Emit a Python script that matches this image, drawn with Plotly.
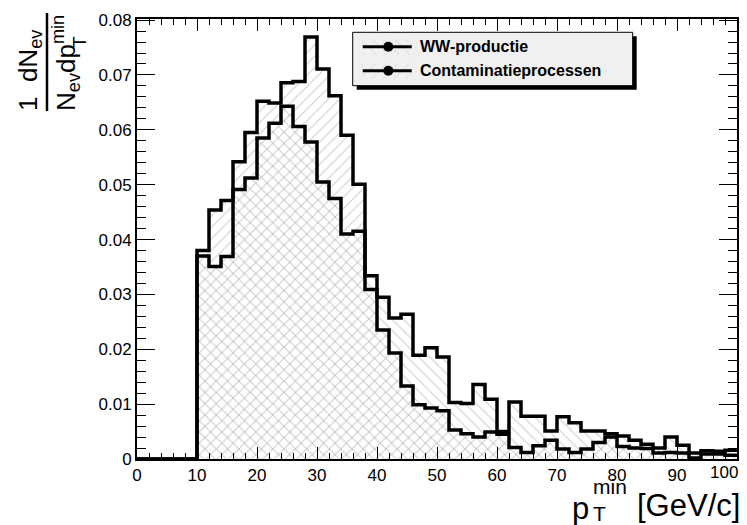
import plotly.graph_objects as go

# ---------------- data (bin width 2 GeV/c, 0..100) ----------------
bin_edges = list(range(0, 102, 2))
ww_productie = [
    0, 0, 0, 0, 0,
    0.0370, 0.0351, 0.0369, 0.0491, 0.0512,
    0.0585, 0.0612, 0.0643, 0.0606, 0.0578,
    0.0505, 0.0475, 0.0410, 0.0415, 0.0334,
    0.0295, 0.0257, 0.0264, 0.0189, 0.0203,
    0.0186, 0.0103, 0.0101, 0.0136, 0.0109,
    0.0050, 0.0104, 0.0078, 0.0078, 0.0051,
    0.0077, 0.0066, 0.0051, 0.0051, 0.0046,
    0.0042, 0.0034, 0.0027, 0.0020, 0.0040,
    0.0025, 0.0011, 0.0015, 0.0014, 0.0016,
]
contaminatie = [
    0, 0, 0, 0, 0,
    0.0380, 0.0454, 0.0471, 0.0542, 0.0595,
    0.0652, 0.0649, 0.0686, 0.0688, 0.0769,
    0.0711, 0.0662, 0.0590, 0.0501, 0.0309,
    0.0235, 0.0193, 0.0133, 0.0099, 0.0093,
    0.0088, 0.0053, 0.0046, 0.0040, 0.0049,
    0.0045, 0.0021, 0.0012, 0.0024, 0.0034,
    0.0018, 0.0012, 0.0018, 0.0030, 0.0040,
    0.0023, 0.0020, 0.0019, 0.0011, 0.0012,
    0.0011, 0.0002, 0.0009, 0.0009, 0.0007,
]
x_tickvals = list(range(0, 101, 10))
x_ticktext = ["0", "10", "20", "30", "40", "50", "60", "70", "80", "90", "100"]
y_tickvals = [0, 0.01, 0.02, 0.03, 0.04, 0.05, 0.06, 0.07, 0.08]
y_ticktext = ["0", "0.01", "0.02", "0.03", "0.04", "0.05", "0.06", "0.07", "0.08"]
legend_names = ["WW-productie", "Contaminatieprocessen"]

FONT = "Liberation Sans, Arial, Helvetica, sans-serif"
TICK = 17
BODY = 8                      # default page margin around the plot div
W, H = 747 - BODY, 525 - BODY
OX, OY = 137, 19              # plot-area corner in window pixels
PW, PH = 600, 440
ML, MT = OX - BODY, OY - BODY
MR, MB = W - ML - PW, H - MT - PH


def px2x(px):
    return (px - OX) / PW


def px2y(py):
    return 1 - (py - OY) / PH


def step(vals):
    return bin_edges, list(vals) + [vals[-1]]


fig = go.Figure()

for vals, hatch in [(ww_productie, "\\"), (contaminatie, "/")]:
    xs, ys = step(vals)
    fig.add_trace(go.Scatter(
        x=xs, y=ys, mode="lines", line=dict(shape="hv", width=0, color="rgba(0,0,0,0)"),
        fill="tozeroy", fillcolor="rgba(0,0,0,0)",
        fillpattern=dict(shape=hatch, fgcolor="#959595", bgcolor="rgba(0,0,0,0)",
                         size=8, solidity=0.12, fillmode="overlay"),
        showlegend=False, hoverinfo="skip"))

for vals in [ww_productie, contaminatie]:
    xs, ys = step(vals)
    fig.add_trace(go.Scatter(
        x=xs, y=ys, mode="lines", line=dict(shape="hv", width=3.5, color="black"),
        showlegend=False, hoverinfo="skip"))

# ---------------- legend drawn in plot-fraction coordinates ----------------
bx0, bx1, by0, by1 = px2x(352.7), px2x(632.7), px2y(85.7), px2y(32.3)
sh = 4
sx0, sx1, sy0, sy1 = px2x(352.7 + sh), px2x(632.7 + sh), px2y(85.7 + sh), px2y(32.3 + sh)
leg = dict(xaxis="x2", yaxis="y2", showlegend=False, hoverinfo="skip")
fig.add_trace(go.Scatter(x=[sx0, sx1, sx1, sx0, sx0], y=[sy0, sy0, sy1, sy1, sy0], mode="lines",
                         fill="toself", fillcolor="black", line=dict(width=0), **leg))
fig.add_trace(go.Scatter(x=[bx0, bx1, bx1, bx0, bx0], y=[by0, by0, by1, by1, by0], mode="lines",
                         fill="toself", fillcolor="#f0f0f0", line=dict(width=1, color="black"), **leg))
entry_py = [46.7, 70.7]
for py, hatch in zip(entry_py, ["\\", "/"]):
    hx0, hx1 = px2x(362), px2x(412)
    hy0, hy1 = px2y(py + 8), px2y(py - 8)
    fig.add_trace(go.Scatter(x=[hx0, hx1, hx1, hx0, hx0], y=[hy0, hy0, hy1, hy1, hy0], mode="lines",
                             fill="toself", fillcolor="rgba(0,0,0,0)", line=dict(width=0),
                             fillpattern=dict(shape=hatch, fgcolor="#b8b8b8", bgcolor="rgba(0,0,0,0)",
                                              size=8, solidity=0.1, fillmode="overlay"), **leg))
    fig.add_trace(go.Scatter(x=[px2x(362.7), px2x(411.7)], y=[px2y(py), px2y(py)], mode="lines",
                             line=dict(color="black", width=3), **leg))
    fig.add_trace(go.Scatter(x=[px2x(388.3)], y=[px2y(py)], mode="markers",
                             marker=dict(color="black", size=10, symbol="circle"), **leg))

annotations = []
for py, name in zip(entry_py, legend_names):
    annotations.append(dict(x=px2x(418), y=px2y(py), text="<b>%s</b>" % name,
                            xanchor="left", yanchor="middle",
                            font=dict(family=FONT, size=16, color="black")))

# last x tick label is pulled inside the window, as in the original
annotations.append(dict(x=px2x(739), y=px2y(472), text=x_ticktext[-1], xanchor="right",
                        yanchor="middle", borderpad=0,
                        font=dict(family=FONT, size=TICK, color="black")))
x_ticktext_axis = x_ticktext[:-1] + [""]

# ---------------- axis titles ----------------
annotations += [
    dict(x=px2x(571), y=px2y(508), text="p", font=dict(family=FONT, size=31, color="black"),
         xanchor="left", yanchor="middle", borderpad=0),
    dict(x=px2x(592), y=px2y(500), text="min<br>T", align="left",
         font=dict(family=FONT, size=21, color="black"),
         xanchor="left", yanchor="middle", borderpad=0),
    dict(x=px2x(741), y=px2y(505), text="[GeV/c]", font=dict(family=FONT, size=31, color="black"),
         xanchor="right", yanchor="middle", borderpad=0),
]
annotations += [
    dict(x=px2x(29), y=px2y(70), text="1  dN<sub>ev</sub>", textangle=-90,
         font=dict(family=FONT, size=26, color="black"), xanchor="center", yanchor="middle"),
    dict(x=px2x(66), y=px2y(63), text="N<sub>ev</sub>dp<sup>min</sup>", textangle=-90,
         font=dict(family=FONT, size=26, color="black"), xanchor="center", yanchor="middle"),
    dict(x=px2x(80), y=px2y(42), text="T", textangle=-90,
         font=dict(family=FONT, size=19, color="black"), xanchor="center", yanchor="middle"),
]
for a in annotations:
    a.setdefault("xref", "paper")
    a.setdefault("yref", "paper")
    a.setdefault("showarrow", False)

shapes = [dict(type="line", xref="paper", yref="paper", x0=px2x(47), x1=px2x(47),
               y0=px2y(13), y1=px2y(111), line=dict(color="black", width=2.5))]

fig.update_layout(
    width=W, height=H, margin=dict(l=ML, r=MR, t=MT, b=MB, pad=0, autoexpand=False),
    paper_bgcolor="white", plot_bgcolor="white",
    font=dict(family=FONT, size=TICK, color="black"),
    showlegend=False,
    xaxis=dict(range=[0, 100], tickvals=x_tickvals, ticktext=x_ticktext_axis, ticks="inside",
               ticklen=12, tickwidth=1, tickcolor="black", showline=True, linewidth=2,
               linecolor="black", mirror="ticks", showgrid=False, zeroline=False,
               tickfont=dict(size=TICK), automargin=False,
               minor=dict(dtick=2, ticks="inside", ticklen=6, tickcolor="black", tickwidth=1)),
    yaxis=dict(range=[0, 0.0802], tickvals=y_tickvals, ticktext=y_ticktext, ticks="inside",
               ticklen=18, tickwidth=1, tickcolor="black", showline=True, linewidth=2,
               linecolor="black", mirror="ticks", showgrid=False, zeroline=False,
               tickfont=dict(size=TICK), automargin=False,
               minor=dict(dtick=0.002, ticks="inside", ticklen=9, tickcolor="black", tickwidth=1)),
    xaxis2=dict(overlaying="x", anchor="y2", range=[0, 1], visible=False, fixedrange=True),
    yaxis2=dict(overlaying="y", anchor="x2", range=[0, 1], visible=False, fixedrange=True),
    annotations=annotations, shapes=shapes,
)

fig.write_html("out.html")
